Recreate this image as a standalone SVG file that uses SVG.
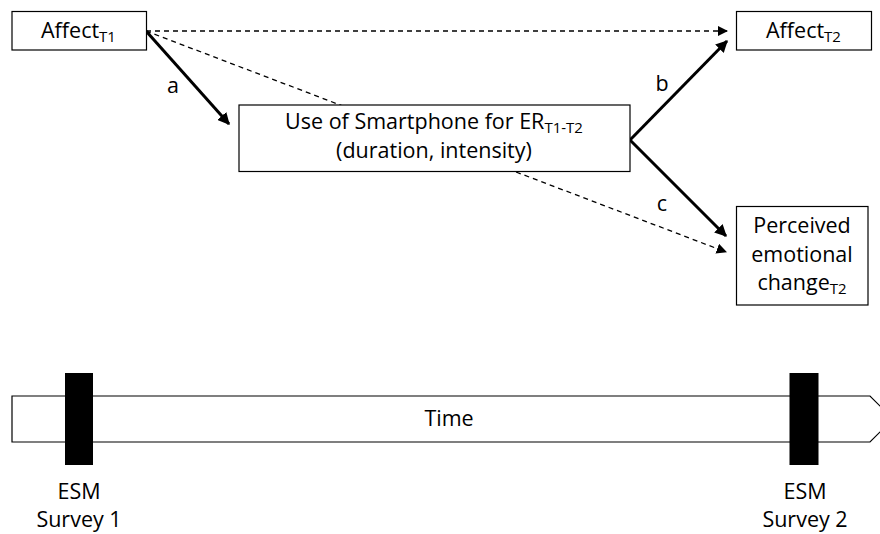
<svg xmlns="http://www.w3.org/2000/svg" width="880" height="534" viewBox="0 0 880 534">
<style>
text{font-family:"Open Sans","Liberation Sans",sans-serif;font-size:21.5px;fill:#000}
.c{text-anchor:middle}
.box{fill:#fff;stroke:#000;stroke-width:1.2}
.sub{font-size:15px}
.solid{stroke:#000;stroke-width:3;fill:none}
.dash{stroke:#000;stroke-width:1.3;stroke-dasharray:5 4;fill:none}
</style>
<defs>
<marker id="ah" viewBox="0 0 10 10" refX="9" refY="5" markerWidth="4" markerHeight="4" orient="auto" markerUnits="strokeWidth"><path d="M0,0L10,5L0,10z" fill="#000"/></marker>
<marker id="ahd" viewBox="0 0 10 10" refX="9" refY="5" markerWidth="8" markerHeight="8" orient="auto" markerUnits="strokeWidth"><path d="M0,0L10,5L0,10z" fill="#000"/></marker>
</defs>
<g id="connectors">
<line class="dash" x1="146" y1="31" x2="727" y2="31" marker-end="url(#ahd)"/>
<line class="dash" x1="146" y1="31" x2="726" y2="252" marker-end="url(#ahd)"/>
<line class="solid" x1="146" y1="31" x2="229" y2="124" marker-end="url(#ah)"/>
<line class="solid" x1="630" y1="140" x2="727" y2="41" marker-end="url(#ah)"/>
<line class="solid" x1="630" y1="140" x2="726" y2="236" marker-end="url(#ah)"/>
<text x="173" y="93" class="c">a</text>
<text x="662" y="91" class="c">b</text>
<text x="662" y="211" class="c">c</text>
</g>
<g id="affectT1">
<rect class="box" x="12" y="11.5" width="134.5" height="38.5"/>
<text x="41" y="38">Affect<tspan class="sub" dy="4">T1</tspan></text>
</g>
<g id="affectT2">
<rect class="box" x="736.5" y="11.5" width="135" height="38.5"/>
<text x="766" y="38">Affect<tspan class="sub" dy="4">T2</tspan></text>
</g>
<g id="smartphone">
<rect class="box" x="239" y="105" width="391" height="66.5"/>
<text x="434" y="129" class="c">Use of Smartphone for ER<tspan class="sub" dy="4">T1-T2</tspan></text>
<text x="434" y="158" class="c">(duration, intensity)</text>
</g>
<g id="perceived">
<rect class="box" x="736.5" y="206.5" width="131.5" height="98.5"/>
<text x="802" y="233" class="c">Perceived</text>
<text x="802" y="262" class="c">emotional</text>
<text x="802" y="290" class="c">change<tspan class="sub" dy="4">T2</tspan></text>
</g>
<g id="timeline">
<path class="box" d="M12,396H870L893,419L870,442H12Z"/>
<text x="449" y="426" class="c">Time</text>
</g>
<g id="survey1">
<rect x="65" y="373" width="28" height="92" fill="#000"/>
<text x="79" y="499" class="c">ESM</text>
<text x="79" y="527" class="c">Survey 1</text>
</g>
<g id="survey2">
<rect x="789.5" y="373" width="29" height="92" fill="#000"/>
<text x="805" y="499" class="c">ESM</text>
<text x="805" y="527" class="c">Survey 2</text>
</g>
</svg>
